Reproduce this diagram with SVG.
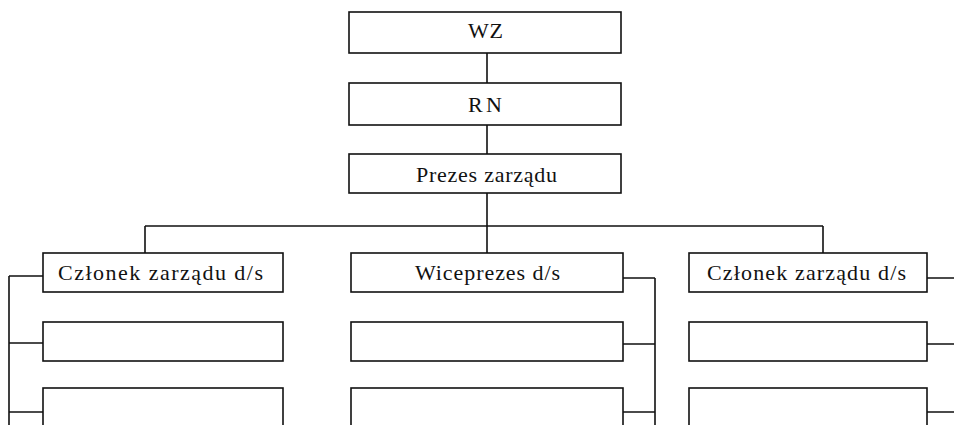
<svg xmlns="http://www.w3.org/2000/svg" width="954" height="425" viewBox="0 0 954 425">
<style>
.box{fill:#fff;stroke:#111;stroke-width:1.6}
.lbl{font-family:"Liberation Serif","Times New Roman",serif;font-size:22px;fill:#111;text-anchor:start}
.con{fill:none;stroke:#111;stroke-width:1.6}
</style>
<rect width="954" height="425" fill="#fff"/>
<g id="connectors">
<path class="con" d="M487,53V83M487,125V154M487,193V226M145,226H823M145,226V253M487,226V253M823,226V253"/>
<path class="con" d="M9,276V430M9,276H43M9,343H43M9,412H43"/>
<path class="con" d="M655,278V430M623,278H655M623,344H655M623,412H655"/>
<path class="con" d="M927,278H954M927,344H954M927,412H954"/>
</g>
<g id="wz"><rect class="box" x="349" y="12" width="272" height="41"/><text class="lbl" x="468" y="38" textLength="35" lengthAdjust="spacing">WZ</text></g>
<g id="rn"><rect class="box" x="349" y="83" width="272" height="42"/><text class="lbl" x="468" y="112" textLength="34" lengthAdjust="spacing">RN</text></g>
<g id="prezes"><rect class="box" x="349" y="154" width="272" height="39"/><text class="lbl" x="416" y="182" textLength="141" lengthAdjust="spacing">Prezes zarządu</text></g>
<g id="czlonek-left"><rect class="box" x="43" y="253" width="240" height="39"/><text class="lbl" x="58" y="280" textLength="205" lengthAdjust="spacing">Członek zarządu d/s</text></g>
<g id="left-2"><rect class="box" x="43" y="322" width="240" height="39"/></g>
<g id="left-3"><rect class="box" x="43" y="388" width="240" height="60"/></g>
<g id="wiceprezes"><rect class="box" x="351" y="253" width="272" height="39"/><text class="lbl" x="415" y="280" textLength="145" lengthAdjust="spacing">Wiceprezes d/s</text></g>
<g id="mid-2"><rect class="box" x="351" y="322" width="272" height="39"/></g>
<g id="mid-3"><rect class="box" x="351" y="388" width="272" height="60"/></g>
<g id="czlonek-right"><rect class="box" x="689" y="253" width="238" height="39"/><text class="lbl" x="707" y="280" textLength="199" lengthAdjust="spacing">Członek zarządu d/s</text></g>
<g id="right-2"><rect class="box" x="689" y="322" width="238" height="39"/></g>
<g id="right-3"><rect class="box" x="689" y="388" width="238" height="60"/></g>
</svg>
